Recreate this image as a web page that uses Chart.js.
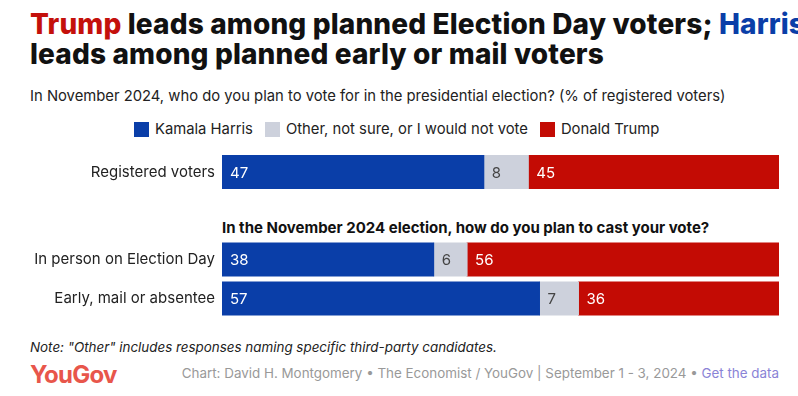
<!DOCTYPE html>
<html>
<head>
<meta charset="utf-8">
<script src="https://cdn.jsdelivr.net/npm/chart.js@4.4.1/dist/chart.umd.min.js"></script>
<style>
  body { margin: 0; width: 798px; height: 396px; background: #fff; font-family: Inter, "Noto Sans", sans-serif; color: #111; position: relative; overflow: hidden; }
  .title { position: absolute; left: 30px; top: 9px; white-space: nowrap; font-size: 28px; font-weight: 800; line-height: 30px; letter-spacing: 0.15px; }
  .sub { position: absolute; left: 30px; top: 87px; font-size: 14.8px; color: #222; }
  .legend { position: absolute; left: 134px; top: 120px; font-size: 14.8px; color: #222; display: flex; align-items: center; }
  .legend span.sw { display: inline-block; width: 15px; height: 15px; margin-right: 6px; }
  .legend .it { display: flex; align-items: center; margin-right: 12px; }
  .group { position: absolute; left: 222px; top: 218px; font-size: 15px; font-weight: 700; color: #111; }
  .note { position: absolute; left: 30px; top: 339px; font-size: 13.4px; font-style: italic; color: #222; }
  .logo { position: absolute; left: 30px; top: 360px; font-size: 24px; font-weight: 700; color: #e8564b; letter-spacing: -0.8px; }
  .credit { position: absolute; right: 19px; top: 365px; font-size: 13.4px; color: #999; }
  .credit a { color: #8a83d6; text-decoration: none; }
  canvas { position: absolute; left: 0; }
</style>
</head>
<body>
<div class="title"><span style="color:#c4100b">Trump</span> leads among planned Election Day voters; <span style="color:#0a3ea8">Harris</span><br>leads among planned early or mail voters</div>
<div class="sub">In November 2024, who do you plan to vote for in the presidential election? (% of registered voters)</div>
<div class="legend" id="legend"></div>
<div class="group">In the November 2024 election, how do you plan to cast your vote?</div>
<div class="note">Note: "Other" includes responses naming specific third-party candidates.</div>
<div class="logo">YouGov</div>
<div class="credit">Chart: David H. Montgomery • The Economist / YouGov | September 1 - 3, 2024 • <a>Get the data</a></div>
<canvas id="c1" width="798" height="44" style="top:150px"></canvas>
<canvas id="c2" width="798" height="78" style="top:240px"></canvas>
<script>
const seriesNames = ["Kamala Harris", "Other, not sure, or I would not vote", "Donald Trump"]
const seriesColors = ["#0a3ea8", "#cdd1dc", "#c30b04"]
const labelColors = ["#fff", "#444", "#fff"]

const topCategories = ["Registered voters"]
const topHarris = [47]
const topOther = [8]
const topTrump = [45]

const modeCategories = ["In person on Election Day", "Early, mail or absentee"]
const modeHarris = [38, 57]
const modeOther = [6, 7]
const modeTrump = [56, 36]

// legend
const legend = document.getElementById("legend")
seriesNames.forEach((name, i) => {
  const it = document.createElement("div")
  it.className = "it"
  it.innerHTML = '<span class="sw" style="background:' + seriesColors[i] + '"></span>' + name
  legend.appendChild(it)
})

// value labels inside the bars
const barLabels = {
  id: "barLabels",
  afterDatasetsDraw(chart) {
    const ctx = chart.ctx
    ctx.save()
    ctx.font = "15px Inter, sans-serif"
    ctx.textBaseline = "middle"
    ctx.textAlign = "left"
    chart.data.datasets.forEach((ds, i) => {
      chart.getDatasetMeta(i).data.forEach((bar, j) => {
        ctx.fillStyle = labelColors[i]
        ctx.fillText(ds.data[j], bar.base + 8, bar.y + 1)
      })
    })
    ctx.restore()
  },
}

function makeChart(id, cats, harris, other, trump) {
  const vals = [harris, other, trump]
  const data = {
    labels: cats,
    datasets: seriesNames.map((name, i) => ({
      label: name,
      data: vals[i],
      backgroundColor: seriesColors[i],
      barThickness: 33,
      borderWidth: 0,
      inflateAmount: 0.5,
    })),
  }
  const config = {
    type: "bar",
    data: data,
    options: {
      indexAxis: "y",
      responsive: false,
      animation: false,
      layout: { padding: { left: 0, right: 19, top: 0, bottom: 0 } },
      plugins: { legend: { display: false }, tooltip: { enabled: false } },
      scales: {
        x: { stacked: true, min: 0, max: 100, display: false },
        y: {
          stacked: true,
          grid: { display: false, drawTicks: false },
          border: { display: false },
          ticks: { color: "#222", font: { size: 15, family: "Inter, sans-serif" }, padding: 7 },
          afterFit: (scale) => {
            scale.width = 222
            // labels must not shrink the plot area vertically
            scale.paddingTop = 0
            scale.paddingBottom = 0
          },
        },
      },
    },
    plugins: [barLabels],
  }
  return new Chart(document.getElementById(id), config)
}

makeChart("c1", topCategories, topHarris, topOther, topTrump)
makeChart("c2", modeCategories, modeHarris, modeOther, modeTrump)
</script>
</body>
</html>
